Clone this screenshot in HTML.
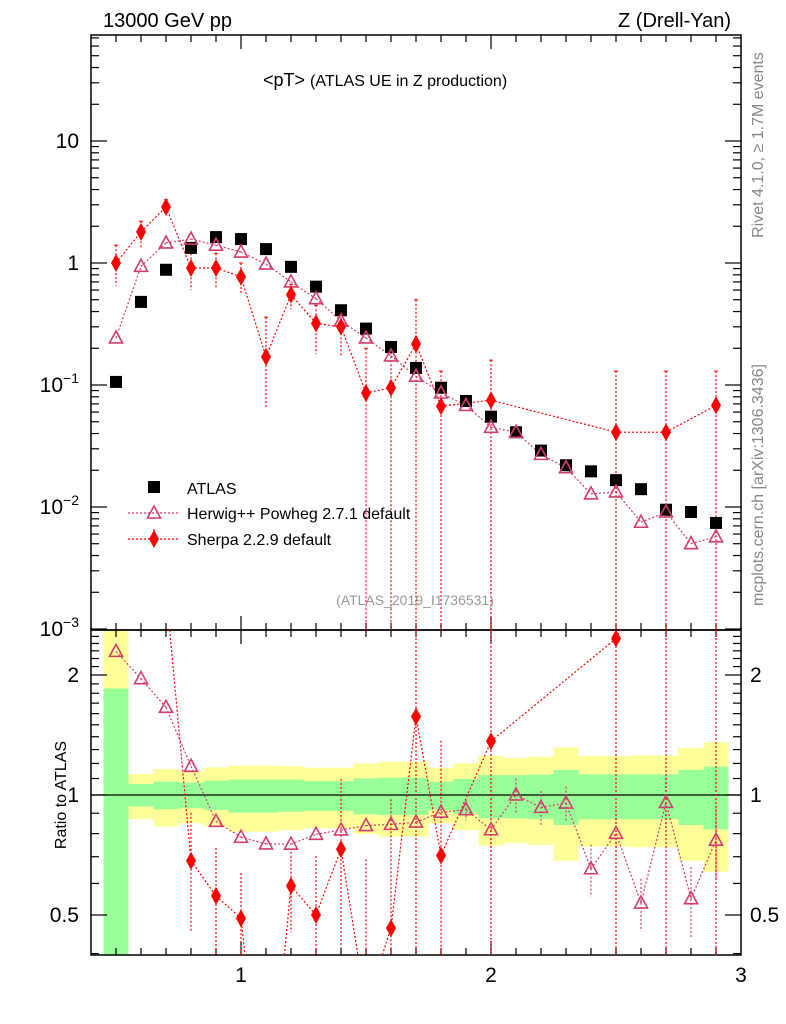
<!DOCTYPE html>
<html><head><meta charset="utf-8"><style>
html,body{margin:0;padding:0;background:#fff;width:786px;height:1024px;overflow:hidden}
#wrap{position:relative;width:786px;height:1024px;overflow:hidden}
svg{display:block;font-family:"Liberation Sans",Arial,sans-serif}
</style></head><body>
<div id="wrap">
<svg id="c" width="786" height="1024" viewBox="0 0 786 1024" style="position:absolute;left:0;top:0"></svg>
<svg style="position:absolute;left:0;top:0" width="786" height="1024">
<text x="103" y="27" font-size="20">13000 GeV pp</text>
<text x="731" y="27" font-size="20" text-anchor="end">Z (Drell-Yan)</text>
<text x="263" y="86" font-size="18">&lt;pT&gt; <tspan font-size="16">(ATLAS UE in Z production)</tspan></text>
<text x="415" y="605" font-size="14" fill="#999" text-anchor="middle">(ATLAS_2019_I1736531)</text>
<text transform="translate(66,795) rotate(-90)" font-size="16" text-anchor="middle">Ratio to ATLAS</text>
<text transform="translate(763,145) rotate(-90)" font-size="16" fill="#888" text-anchor="middle">Rivet 4.1.0, ≥ 1.7M events</text>
<text transform="translate(763,485) rotate(-90)" font-size="16" fill="#888" text-anchor="middle">mcplots.cern.ch [arXiv:1306.3436]</text>
<g>
<rect x="148" y="481" width="12" height="12" fill="#000"/>
<text x="187" y="494" font-size="16">ATLAS</text>
<line x1="128" x2="178" y1="513" y2="513" stroke="#d23c6e" stroke-width="1.2" stroke-dasharray="2,2"/>
<polygon points="154,506 147.5,518 160.5,518" fill="none" stroke="#d23c6e" stroke-width="1.6"/>
<text x="187" y="519" font-size="16">Herwig++ Powheg 2.7.1 default</text>
<line x1="128" x2="178" y1="539" y2="539" stroke="#ff0000" stroke-width="1.2" stroke-dasharray="2,2"/>
<line x1="154" x2="154" y1="529" y2="549" stroke="#ff0000" stroke-width="1.2" stroke-dasharray="2,2"/>
<polygon points="154,530 159,539 154,548 149,539" fill="#ff0000"/>
<text x="187" y="545" font-size="16">Sherpa 2.2.9 default</text>
</g>
</svg>
</div>
<script>
const xs=[0.5,0.6,0.7,0.8,0.9,1.0,1.1,1.2,1.3,1.4,1.5,1.6,1.7,1.8,1.9,2.0,2.1,2.2,2.3,2.4,2.5,2.6,2.7,2.8,2.9];
const atlas=[0.106,0.48,0.88,1.33,1.63,1.57,1.3,0.93,0.64,0.41,0.29,0.205,0.138,0.095,0.074,0.055,0.041,0.029,0.022,0.0196,0.0166,0.0140,0.0095,0.0091,0.0074];
const herwig=[0.243,0.94,1.46,1.57,1.40,1.23,0.98,0.70,0.51,0.335,0.243,0.173,0.118,0.086,0.068,0.045,0.041,0.027,0.021,0.0128,0.0133,0.0075,0.0091,0.0050,0.0057];
const herwigRelErr=[0.03,0.03,0.03,0.03,0.03,0.03,0.03,0.03,0.03,0.03,0.04,0.04,0.05,0.05,0.06,0.12,0.1,0.1,0.1,0.15,0.12,0.15,0.15,0.2,0.2];
const sherpaX=[0.5,0.6,0.7,0.8,0.9,1.0,1.1,1.2,1.3,1.4,1.5,1.6,1.7,1.8,2.0,2.5,2.7,2.9];
const sherpa=[1.0,1.8,2.88,0.91,0.91,0.77,0.17,0.55,0.32,0.30,0.086,0.095,0.217,0.067,0.075,0.041,0.041,0.068];
const sherpaHi=[1.4,2.2,3.3,1.2,1.2,1.0,0.36,0.67,0.45,0.45,0.2,0.2,0.5,0.13,0.16,0.13,0.13,0.13];
const sherpaLo=[0.65,1.3,2.5,0.6,0.62,0.55,0.065,0.42,0.18,0.17,0,0,0,0,0,0,0,0];
const yelUp=[3,1.129,1.162,1.147,1.173,1.185,1.185,1.182,1.171,1.171,1.201,1.212,1.212,1.171,1.201,1.255,1.240,1.248,1.317,1.253,1.253,1.257,1.257,1.313,1.356];
const grnUp=[1.85,1.065,1.080,1.074,1.086,1.093,1.093,1.093,1.084,1.084,1.101,1.105,1.105,1.080,1.097,1.122,1.122,1.125,1.155,1.127,1.127,1.127,1.127,1.155,1.178];
const grnDn=[0.3,0.935,0.921,0.926,0.917,0.903,0.903,0.908,0.912,0.912,0.894,0.891,0.891,0.917,0.897,0.874,0.874,0.870,0.841,0.869,0.869,0.869,0.869,0.841,0.820];
const yelDn=[0.3,0.870,0.833,0.849,0.833,0.809,0.809,0.817,0.825,0.825,0.798,0.786,0.786,0.849,0.817,0.746,0.757,0.749,0.684,0.742,0.742,0.739,0.739,0.684,0.642];
const xTicks=[1,2,3];
const yTicks=[{v:10,t:"10"},{v:1,t:"1"}];
const rTicks=[2,1,0.5];

const NS="http://www.w3.org/2000/svg",svg=document.getElementById('c');
function el(tag,attrs,parent){const e=document.createElementNS(NS,tag);for(const k in attrs)e.setAttribute(k,attrs[k]);(parent||svg).appendChild(e);return e;}
const L=91,R=741,T=35,MB=630,RB=955;
const X=v=>241+(v-1)*250;
const Y=v=>263-Math.log10(v)*122;
const RY=v=>795-Math.log10(v)*398.6;
const RED="#ff0000",PINK="#d23c6e";
const cl=(v,a,b)=>Math.max(a,Math.min(b,v));

// clip polyline to y-range in pixel space
function clippedPath(pts,ymin,ymax){
  let d='';
  for(let i=0;i<pts.length-1;i++){
    let [x0,y0]=pts[i],[x1,y1]=pts[i+1];
    let t0=0,t1=1;const dy=y1-y0;
    if(dy===0){if(y0<ymin||y0>ymax)continue;}
    else{
      let ta=(ymin-y0)/dy,tb=(ymax-y0)/dy;
      if(ta>tb){const s=ta;ta=tb;tb=s;}
      t0=Math.max(t0,ta);t1=Math.min(t1,tb);
      if(t0>t1)continue;
    }
    const ax=x0+(x1-x0)*t0,ay=y0+dy*t0,bx=x0+(x1-x0)*t1,by=y0+dy*t1;
    d+=`M${ax.toFixed(1)},${ay.toFixed(1)} L${bx.toFixed(1)},${by.toFixed(1)} `;
  }
  return d||'M0,0';
}

const gb=el('g',{'clip-path':'url(#cr)'});
const defs=el('defs',{});
const c2=el('clipPath',{id:'cr'},defs);el('rect',{x:L,y:MB,width:R-L,height:RB-MB},c2);
xs.forEach((x,i)=>{
  const x0=X(x-0.05),x1=X(x+0.05);
  const yu=cl(RY(yelUp[i]),MB,RB),yd=cl(RY(yelDn[i]),MB,RB),gu=cl(RY(grnUp[i]),MB,RB),gd=cl(RY(grnDn[i]),MB,RB);
  let r=el('rect',{x:x0,y:yu,width:x1-x0,height:yd-yu,fill:'#ffff99'},gb);
  
  
  let g=el('rect',{x:x0,y:gu,width:x1-x0,height:gd-gu,fill:'#99ff99'},gb);
  
  
});
el('line',{x1:L,x2:R,y1:RY(1),y2:RY(1),stroke:'#000','stroke-width':1.3,});

el('rect',{x:L,y:T,width:R-L,height:MB-T,fill:'none',stroke:'#000','stroke-width':1.5,});
el('rect',{x:L,y:MB,width:R-L,height:RB-MB,fill:'none',stroke:'#000','stroke-width':1.5,});

for(let k=5;k<=29;k++){const v=k/10,x=X(v),maj=(k%10===0),len=maj?14:7;
  [[T,1],[MB,-1],[MB,1],[RB,-1]].forEach(([y0,d])=>el('line',{x1:x,x2:x,y1:y0,y2:y0+d*len,stroke:'#000','stroke-width':1.2}));}
xTicks.forEach(v=>{const t=el('text',{x:X(v),y:982,'font-size':21,'text-anchor':'middle'});t.textContent=v;
  
  });
for(let e=-3;e<=1;e++)for(let m=1;m<=9;m++){const v=m*Math.pow(10,e),y=Y(v);if(y<T||y>MB)continue;const len=m===1?16:8;
  el('line',{x1:L,x2:L+len,y1:y,y2:y,stroke:'#000','stroke-width':1.2});el('line',{x1:R,x2:R-len,y1:y,y2:y,stroke:'#000','stroke-width':1.2});}
yTicks.forEach(o=>{const t=el('text',{x:79,y:Y(o.v)+7,'font-size':21,'text-anchor':'end'});t.textContent=o.t;
  
  });
[[-1,"10"],[-2,"10"],[-3,"10"]].forEach(([e,b])=>{const t=el('text',{x:79,y:Y(Math.pow(10,e))+7,'font-size':21,'text-anchor':'end'});
  t.textContent=b;const s=el('tspan',{'font-size':14,dy:-9},t);s.textContent="−"+(-e);
  
  });
for(let v=0.4;v<=2.6;v+=0.1){const y=RY(v);if(y<MB||y>RB)continue;const maj=Math.abs(v-0.5)<1e-6||Math.abs(v-1)<1e-6||Math.abs(v-2)<1e-6;const len=maj?16:8;
  el('line',{x1:L,x2:L+len,y1:y,y2:y,stroke:'#000','stroke-width':1.2});el('line',{x1:R,x2:R-len,y1:y,y2:y,stroke:'#000','stroke-width':1.2});}
rTicks.forEach(v=>{[[79,'end'],[750,'start']].forEach(([x,a])=>{const t=el('text',{x:x,y:RY(v)+7,'font-size':21,'text-anchor':a});t.textContent=v;
  
  });});

// main panel
const gm=el('g',{});
el('path',{d:clippedPath(xs.map((x,i)=>[X(x),Y(herwig[i])]),T,MB),fill:'none',stroke:PINK,'stroke-width':1.2,'stroke-dasharray':'2,2'},gm);
el('path',{d:clippedPath(sherpaX.map((x,i)=>[X(x),Y(sherpa[i])]),T,MB),fill:'none',stroke:RED,'stroke-width':1.2,'stroke-dasharray':'2,2'},gm);
sherpaX.forEach((x,i)=>{const px=X(x),y1=cl(Y(sherpaHi[i]),T,MB),y2=sherpaLo[i]>0?cl(Y(sherpaLo[i]),T,MB):MB;
  el('line',{x1:px,x2:px,y1:y1,y2:y2,stroke:RED,'stroke-width':1.2,'stroke-dasharray':'2,2'},gm);
  el('line',{x1:px-2,x2:px+2,y1:y1,y2:y1,stroke:RED,'stroke-width':1},gm);});
function tri(px,py,col,g){return el('polygon',{points:`${px},${py-7} ${px-6.5},${py+5} ${px+6.5},${py+5}`,fill:'none',stroke:col,'stroke-width':1.6},g);}
function dia(px,py,g){return el('polygon',{points:`${px},${py-9} ${px+5},${py} ${px},${py+9} ${px-5},${py}`,fill:RED},g);}
xs.forEach((x,i)=>{const s=el('rect',{x:X(x)-6,y:Y(atlas[i])-6,width:12,height:12,fill:'#000'},gm);
  
  });
xs.forEach((x,i)=>{const t=tri(X(x),Y(herwig[i]),PINK,gm);
  
  });
sherpaX.forEach((x,i)=>{const d=dia(X(x),Y(sherpa[i]),gm);
  
  });

// ratio panel
const gr=el('g',{});
const hr=xs.map((x,i)=>herwig[i]/atlas[i]);
const idx=x=>xs.findIndex(v=>Math.abs(v-x)<1e-6);
const sr=sherpaX.map((x,i)=>sherpa[i]/atlas[idx(x)]);
el('path',{d:clippedPath(xs.map((x,i)=>[X(x),RY(hr[i])]),MB,RB),fill:'none',stroke:PINK,'stroke-width':1.2,'stroke-dasharray':'2,2'},gr);
el('path',{d:clippedPath(sherpaX.map((x,i)=>[X(x),RY(sr[i])]),MB,RB),fill:'none',stroke:RED,'stroke-width':1.2,'stroke-dasharray':'2,2'},gr);
xs.forEach((x,i)=>{const e=herwigRelErr[i];if(e<0.06)return;const px=X(x);
  const y1=cl(RY(hr[i]*(1+e)),MB,RB),y2=cl(RY(hr[i]*(1-e)),MB,RB);if(y1===y2)return;
  el('line',{x1:px,x2:px,y1:y1,y2:y2,stroke:PINK,'stroke-width':1.2,'stroke-dasharray':'2,2'},gr);});
sherpaX.forEach((x,i)=>{const a=atlas[idx(x)],px=X(x),y1=cl(RY(sherpaHi[i]/a),MB,RB),y2=sherpaLo[i]>0?cl(RY(sherpaLo[i]/a),MB,RB):RB;
  if(y1===y2)return;
  el('line',{x1:px,x2:px,y1:y1,y2:y2,stroke:RED,'stroke-width':1.2,'stroke-dasharray':'2,2'},gr);});
xs.forEach((x,i)=>{const py=RY(hr[i]);if(py<MB||py>RB)return;const t=tri(X(x),py,PINK,gr);
  
  });
sherpaX.forEach((x,i)=>{const py=RY(sr[i]);if(py<MB||py>RB)return;const d=dia(X(x),py,gr);
  
  });
</script>
</body></html>
